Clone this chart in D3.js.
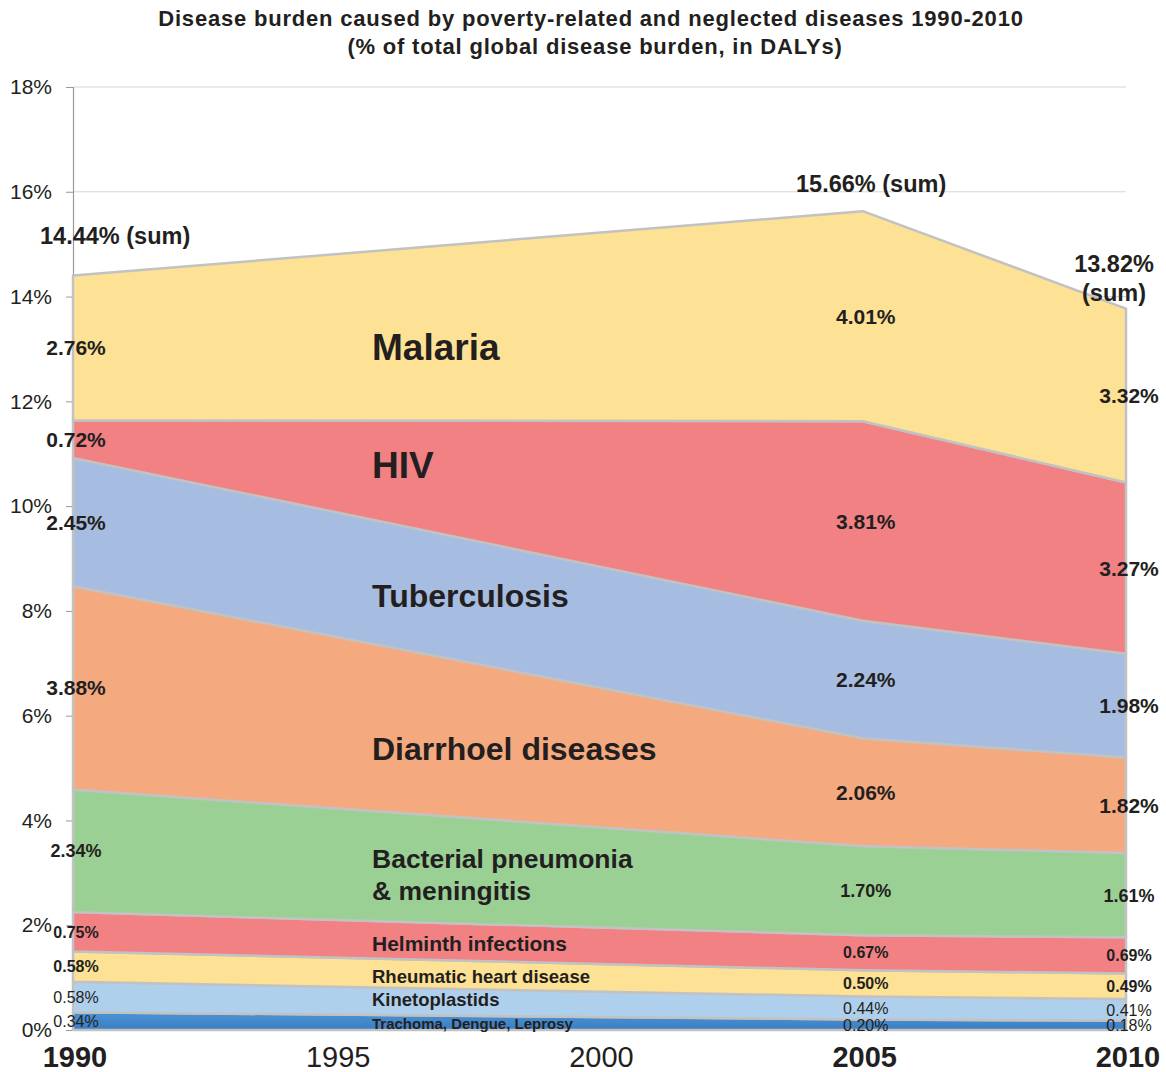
<!DOCTYPE html>
<html>
<head>
<meta charset="utf-8">
<script src="https://cdn.jsdelivr.net/npm/d3@7"></script>
<style>
  body { margin: 0; background: #fff; }
  svg text { font-family: "Liberation Sans", Arial, Helvetica, sans-serif; fill: #231f20; }
</style>
</head>
<body>
<div id="chart"></div>
<script>
var svgWidth = 1166;
var svgHeight = 1072;

// data
var years = [1990, 2005, 2010];
var diseases = ["Trachoma", "Kinetoplastids", "Rheumatic", "Helminth", "Bacterial", "Diarrhoel", "Tuberculosis", "HIV", "Malaria"];
var trachoma = [0.34, 0.20, 0.18];
var kinetoplastids = [0.58, 0.44, 0.41];
var rheumatic = [0.58, 0.50, 0.49];
var helminth = [0.75, 0.67, 0.69];
var bacterial = [2.34, 1.70, 1.61];
var diarrhoel = [3.88, 2.06, 1.82];
var tuberculosis = [2.45, 2.24, 1.98];
var hiv = [0.72, 3.81, 3.27];
var malaria = [2.76, 4.01, 3.32];
var sums = ["14.44%", "15.66%", "13.82%"];
var yTicks = [0, 2, 4, 6, 8, 10, 12, 14, 16, 18];
var xTicks = [1990, 1995, 2000, 2005, 2010];
var boldYears = [1990, 2005, 2010];

var series = [trachoma, kinetoplastids, rheumatic, helminth, bacterial, diarrhoel, tuberculosis, hiv, malaria];
var colors = ["url(#trachomaGrad)", "#afd0ec", "#fde194", "#f28184", "#9ad094", "#f5a97f", "#a7bce1", "#f28184", "#fde194"];

var rows = years.map(function (yr, i) {
  var r = { year: yr };
  diseases.forEach(function (k, j) { r[k] = series[j][i]; });
  return r;
});

var x = d3.scaleLinear().domain([1990, 2010]).range([73, 1126]);
var y = d3.scaleLinear().domain([0, 18]).range([1030, 87]);

var svg = d3.select("#chart")
  .append("svg")
  .attr("width", svgWidth)
  .attr("height", svgHeight);

var grad = svg.append("defs").append("linearGradient")
  .attr("id", "trachomaGrad")
  .attr("x1", 0).attr("y1", 0).attr("x2", 0).attr("y2", 1);
grad.append("stop").attr("offset", "0%").attr("stop-color", "#4c94d4");
grad.append("stop").attr("offset", "100%").attr("stop-color", "#3a7ec3");

// title
svg.append("text")
  .attr("x", 591).attr("y", 26)
  .attr("text-anchor", "middle")
  .style("font-size", "22px").style("font-weight", "bold")
  .style("letter-spacing", "0.8px")
  .text("Disease burden caused by poverty-related and neglected diseases 1990-2010");
svg.append("text")
  .attr("x", 595).attr("y", 54)
  .attr("text-anchor", "middle")
  .style("font-size", "22px").style("font-weight", "bold")
  .style("letter-spacing", "0.8px")
  .text("(% of total global disease burden, in DALYs)");

// grid lines
svg.append("g").selectAll("line")
  .data(yTicks.filter(function (d) { return d > 0; }))
  .enter().append("line")
  .attr("x1", x(1990)).attr("x2", x(2010))
  .attr("y1", function (d) { return y(d); })
  .attr("y2", function (d) { return y(d); })
  .attr("stroke", "#d6d6d6").attr("stroke-width", 1);

// left axis
var leftAxis = d3.axisLeft(y)
  .tickValues(yTicks)
  .tickSize(7)
  .tickPadding(14)
  .tickFormat(function (d) { return d + "%"; });

var yAxisG = svg.append("g")
  .attr("transform", "translate(" + x(1990) + ",0)")
  .call(leftAxis);
yAxisG.select(".domain").attr("stroke", "#999").attr("stroke-width", 1.2);
yAxisG.selectAll(".tick line").attr("stroke", "#999");
yAxisG.selectAll(".tick text")
  .style("font-size", "21px")
  .attr("fill", "#231f20");

// stacked areas
var stack = d3.stack().keys(diseases);
var stacked = stack(rows);

var area = d3.area()
  .x(function (d) { return x(d.data.year); })
  .y0(function (d) { return y(d[0]); })
  .y1(function (d) { return y(d[1]); });

svg.append("g").selectAll("path")
  .data(stacked)
  .enter().append("path")
  .attr("d", area)
  .attr("fill", function (d, i) { return colors[i]; })
  .attr("stroke", "#c2c2c2")
  .attr("stroke-width", 2.5)
  .attr("stroke-linejoin", "round");

// value labels at each year, centred in their layer
var labelSize = {
  "Malaria": 21, "HIV": 21, "Tuberculosis": 21, "Diarrhoel": 21,
  "Bacterial": 18, "Helminth": 16, "Rheumatic": 16,
  "Kinetoplastids": 16, "Trachoma": 16
};
var valueG = svg.append("g");
stacked.forEach(function (layer) {
  layer.forEach(function (pt) {
    var key = layer.key;
    var regular = key === "Kinetoplastids" || key === "Trachoma";
    valueG.append("text")
      .attr("x", x(pt.data.year) + 3)
      .attr("y", y((pt[0] + pt[1]) / 2))
      .attr("dy", "0.36em")
      .attr("text-anchor", "middle")
      .style("font-size", labelSize[key] + "px")
      .style("font-weight", regular ? "normal" : "bold")
      .text(pt.data[key].toFixed(2) + "%");
  });
});

// disease names
var names = [
  { t: ["Malaria"], yv: 13.04, size: 37 },
  { t: ["HIV"], yv: 10.8, size: 37 },
  { t: ["Tuberculosis"], yv: 8.3, size: 32 },
  { t: ["Diarrhoel diseases"], yv: 5.37, size: 32 },
  { t: ["Bacterial pneumonia", "& meningitis"], yv: 3.28, size: 26.5 },
  { t: ["Helminth infections"], yv: 1.66, size: 21 },
  { t: ["Rheumatic heart disease"], yv: 1.03, size: 18.5 },
  { t: ["Kinetoplastids"], yv: 0.58, size: 18.5 },
  { t: ["Trachoma, Dengue, Leprosy"], yv: 0.12, size: 15 }
];
names.forEach(function (n) {
  var txt = svg.append("text")
    .attr("x", 372)
    .attr("y", y(n.yv))
    .style("font-size", n.size + "px")
    .style("font-weight", "bold");
  n.t.forEach(function (line, i) {
    txt.append("tspan")
      .attr("x", 372)
      .attr("dy", i === 0 ? "0.36em" : "1.2em")
      .text(line);
  });
});

// sum labels
svg.append("text").attr("x", 40).attr("y", 244)
  .style("font-size", "23.5px").style("font-weight", "bold")
  .text(sums[0] + " (sum)");
svg.append("text").attr("x", 796).attr("y", 192)
  .style("font-size", "23.5px").style("font-weight", "bold")
  .text(sums[1] + " (sum)");
svg.append("text").attr("x", 1114).attr("y", 272)
  .attr("text-anchor", "middle")
  .style("font-size", "23.5px").style("font-weight", "bold")
  .text(sums[2]);
svg.append("text").attr("x", 1114).attr("y", 301)
  .attr("text-anchor", "middle")
  .style("font-size", "23.5px").style("font-weight", "bold")
  .text("(sum)");

// year labels
svg.append("g").selectAll("text")
  .data(xTicks)
  .enter().append("text")
  .attr("x", function (d) { return x(d) + 2; })
  .attr("y", 1067)
  .attr("text-anchor", "middle")
  .style("font-size", "29px")
  .style("font-weight", function (d) { return boldYears.indexOf(d) >= 0 ? "bold" : "normal"; })
  .text(function (d) { return d; });
</script>
</body>
</html>
